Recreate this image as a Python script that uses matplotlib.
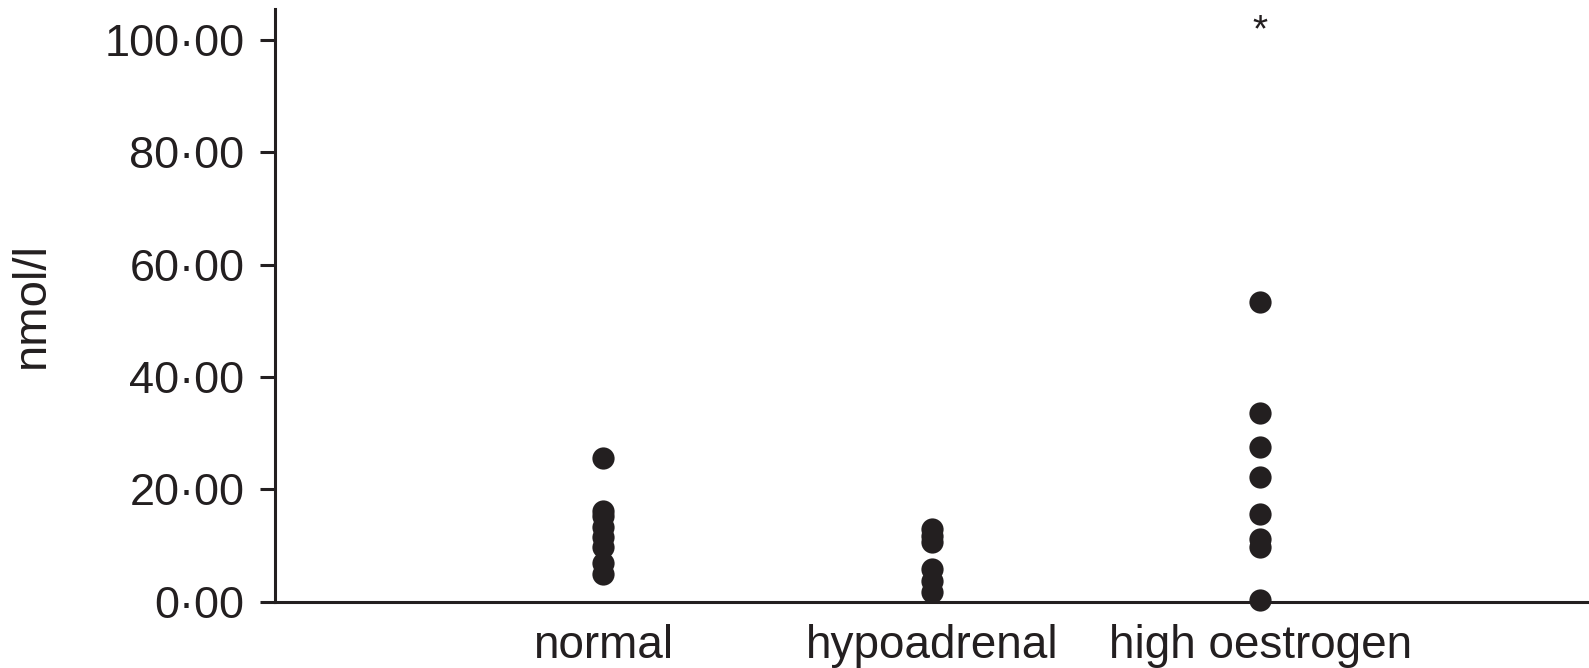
import matplotlib
matplotlib.use("Agg")
import matplotlib.pyplot as plt

plt.rcParams['font.family'] = ['Liberation Sans', 'DejaVu Sans']

# data
groups = ["normal", "hypoadrenal", "high oestrogen"]
normal = [25.6, 16.2, 15.2, 13.3, 11.5, 9.8, 7.0, 5.0]
hypoadrenal = [13.0, 11.8, 10.7, 5.9, 3.8, 1.8]
high_oestrogen = [53.3, 33.6, 27.6, 22.2, 15.7, 11.2, 9.8, 0.4]
outlier_y = 103.5
yticks = [0, 20, 40, 60, 80, 100]
ink = "#231f20"

fig = plt.figure(figsize=(15.89, 6.68), dpi=100)
ax = fig.add_axes([0.173, 0.099, 0.827, 0.888])

for i, vals in enumerate([normal, hypoadrenal, high_oestrogen], start=1):
    ax.plot([i] * len(vals), vals, "o", color=ink, markersize=16,
            markeredgewidth=0, clip_on=False, zorder=3)

# asterisk glyph sits high in its box, so nudge it down
ax.text(3, outlier_y - 2.0, "*", ha="center", va="center", fontsize=28, color=ink)

ax.set_xlim(0, 4)
ax.set_ylim(0, 105.5)
ax.set_yticks(yticks)
ax.set_yticklabels([f"{v}\u00b700" for v in yticks])
ax.set_xticks([1, 2, 3])
ax.set_xticklabels(groups)

ax.spines["top"].set_visible(False)
ax.spines["right"].set_visible(False)
for s in ["left", "bottom"]:
    ax.spines[s].set_linewidth(2.2)
    ax.spines[s].set_color(ink)

ax.tick_params(axis="y", length=11, width=2.2, color=ink, labelsize=32.5,
               labelcolor=ink, pad=11)
ax.tick_params(axis="x", length=0, labelsize=33, labelcolor=ink, pad=16)

ax.set_ylabel("nmol/l", fontsize=34, color=ink, labelpad=36)

fig.savefig("out.png", dpi=100)
